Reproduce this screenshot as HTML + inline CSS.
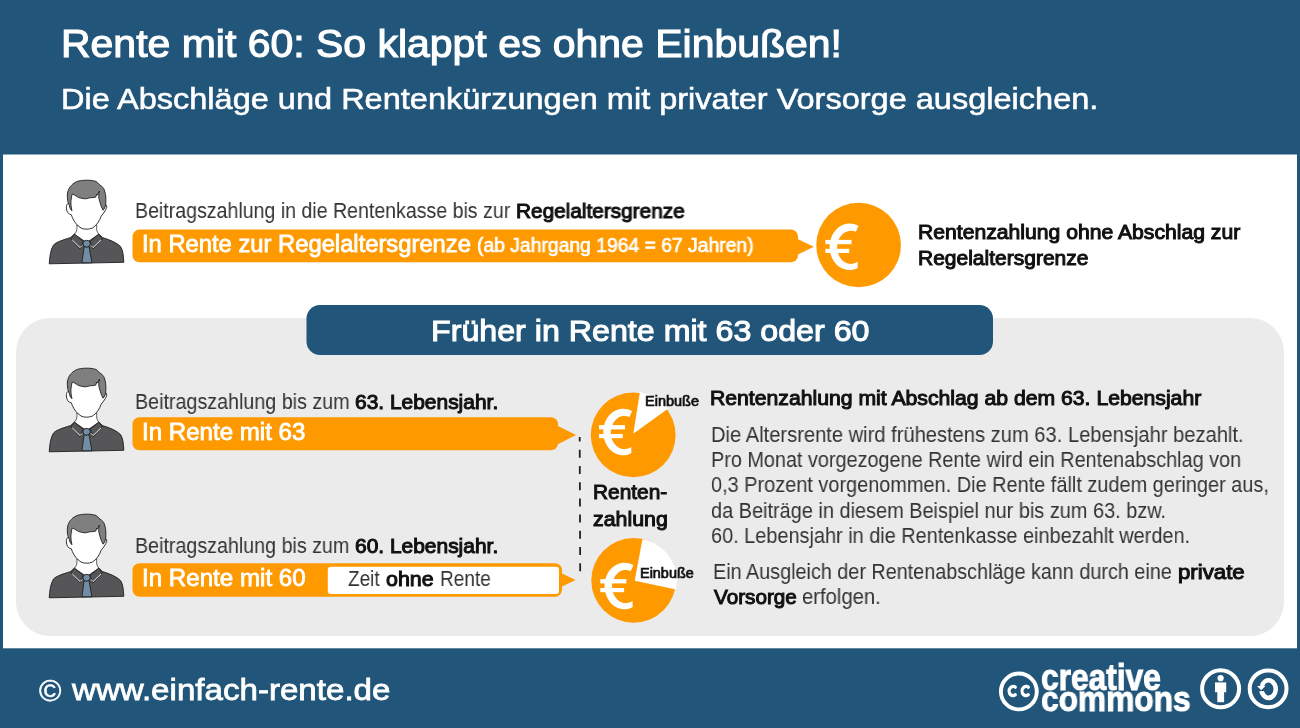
<!DOCTYPE html>
<html><head><meta charset="utf-8"><style>
html,body{margin:0;padding:0;}
body{width:1300px;height:728px;overflow:hidden;position:relative;background:#21557a;font-family:"Liberation Sans",sans-serif;}
.t{position:absolute;white-space:nowrap;transform-origin:0 0;will-change:transform;}
</style></head><body>
<svg width="1300" height="728" viewBox="0 0 1300 728" style="position:absolute;left:0;top:0">
<rect x="3" y="154.5" width="1294" height="493.8" fill="#fff"/>
<rect x="16" y="318" width="1268" height="318" rx="34" fill="#ebebeb"/>
<rect x="306.5" y="305" width="686.5" height="50" rx="13.5" fill="#21557a"/>
<!-- bar1 -->
<rect x="132.5" y="229.6" width="665.5" height="32.6" rx="7" fill="#ff9900"/>
<path d="M797,238.8 L813.8,246.8 L797,255 Z" fill="#ff9900"/>
<circle cx="858.6" cy="245" r="42.3" fill="#ff9900"/>
<g transform="translate(825.3,223.2)"><g fill="#fff">
<path d="M33.2,2.9 A19.8,23.3 0 1 0 32.4,44.8 L32.4,38.6 A13.8,16.6 0 1 1 30.5,8.6 Z"/>
<rect x="0.1" y="16.7" width="26.1" height="4.3"/>
<rect x="0.1" y="25.6" width="23.8" height="4.2"/>
</g></g>
<!-- bar2 -->
<rect x="132.5" y="417.3" width="425.5" height="33" rx="7" fill="#ff9900"/>
<path d="M557,425.5 L576,435.1 L557,444.7 Z" fill="#ff9900"/>
<!-- bar3 -->
<rect x="132.5" y="563.2" width="429.5" height="33.6" rx="7" fill="#ff9900"/>
<rect x="327.8" y="566.7" width="231.2" height="27.3" rx="3" fill="#fff"/>
<path d="M561,573 L575.6,579.9 L561,587 Z" fill="#ff9900"/>
<!-- dashed -->
<line x1="579.7" y1="437" x2="580.2" y2="572.2" stroke="#222" stroke-width="1.8" stroke-dasharray="8 8.2" stroke-dashoffset="3.4"/>
<!-- pies -->
<circle cx="633.2" cy="434.9" r="42.4" fill="#ff9900"/>
<path d="M633.3,433.8 L639.93,391.92 A42.4,42.4 0 0 1 667.60,408.88 Z" fill="#fff"/>
<g transform="translate(598.9,408.4)"><g fill="#fff">
<path d="M33.2,2.9 A19.8,23.3 0 1 0 32.4,44.8 L32.4,38.6 A13.8,16.6 0 1 1 30.5,8.6 Z"/>
<rect x="0.1" y="16.7" width="26.1" height="4.3"/>
<rect x="0.1" y="25.6" width="23.8" height="4.2"/>
</g></g>
<circle cx="633.6" cy="580.4" r="42.3" fill="#ff9900"/>
<path d="M634.7,580.8 L642.41,539.21 A42.3,42.3 0 0 1 676.08,589.59 Z" fill="#fff"/>
<g transform="translate(600.2,562.4)"><g fill="#fff">
<path d="M33.2,2.9 A19.8,23.3 0 1 0 32.4,44.8 L32.4,38.6 A13.8,16.6 0 1 1 30.5,8.6 Z"/>
<rect x="0.1" y="16.7" width="26.1" height="4.3"/>
<rect x="0.1" y="25.6" width="23.8" height="4.2"/>
</g></g>
<g transform="translate(0,0)"><g stroke="#1e1e1e" stroke-width="0.9" stroke-linejoin="round">
<path d="M49.2,263.8 C49.8,256 50.5,250 53.5,245 C56,242.3 62,240.2 70.6,237.6 L74.4,234.2 L98.8,234.2 L102.6,237.6 C110,240 116.5,242.5 120.5,246.5 C123,250 123.5,256 123.8,262.3 Z" fill="#565658"/>
<path d="M76.8,225 C77.3,229 77,231.5 74.4,234.2 L86.6,242.5 L98.8,234.2 C96.5,231.5 96.3,229 96.8,225 Z" fill="#fff" stroke-width="0.7"/>
<path d="M71,238.6 L74.4,234.2 L83.2,241.4 L80.1,249 Z M102.2,238.6 L98.8,234.2 L90,241.4 L93.1,249 Z" fill="#565658" stroke-width="0.8"/>
<path d="M72.2,239.9 L80.1,247.6 L82.2,245.4 M101,239.9 L93.1,247.6 L91,245.4" fill="none" stroke="#fff" stroke-width="0.9"/>
<path d="M84.1,246.8 L89.1,246.8 L91.9,262.8 L81.9,262.8 Z" fill="#728ea6"/>
<ellipse cx="86.6" cy="243.7" rx="3.7" ry="3.4" fill="#728ea6"/>
<path d="M70.5,203.5 C67.5,203 66.2,204 66.4,208 C66.6,211.5 68,214.3 71.3,214.8 L72.4,217.6 C74,221.5 77,225.5 81,228 C84,229.6 89,229.6 92.5,228 C96.5,225.5 99.5,221 101.2,216.2 C103.3,213.5 105.7,210.7 106.7,207.3 C107,204.5 105.3,204.2 103.8,204.5 L101,190 L72,190 Z" fill="#fff" stroke="none"/><path d="M70.5,203.5 C67.5,203 66.2,204 66.4,208 C66.6,211.5 68,214.3 71.3,214.8 L72.4,217.6 C74,221.5 77,225.5 81,228 C84,229.6 89,229.6 92.5,228 C96.5,225.5 99.5,221 101.2,216.2 C103.3,213.5 105.7,210.7 106.7,207.3 C107,204.5 105.3,204.2 103.8,204.5" fill="none"/>
<path d="M71.9,210.7 C70.5,209.5 69.6,207.5 69.4,205.7 C68.5,203.5 67.7,201.5 67.6,200.3 C67.2,197.5 67.2,195 67.5,192.9 C68.3,189.5 69.5,187.2 71.4,185.4 C73.3,183.3 75.5,182 77.9,181.2 C81.5,180.3 85,180.1 88.8,180.2 C91.5,180.3 94,180.7 96.2,181.5 C97.3,182.2 98,183.2 98.7,184 C99.6,185 100.6,185.5 101.6,186.2 C103.2,187.5 104.2,189 104.6,190.9 C105.4,193 105.8,195.5 105.8,197.8 C106,200.5 105.9,203 105.6,205.2 C105.2,207.2 104.3,209 103.1,210.2 C101.8,208 100.8,205.5 100.1,202.8 C99.4,200.8 98.9,198.8 98.7,196.8 C98.6,195 98.9,193 99.4,191.1 L98.2,193.8 L96.9,195.2 L96.6,194.2 L95.7,197.1 C93.9,197.6 91.8,197.7 89.7,197.8 C88,198.4 86.5,198.8 84.8,198.8 C82.8,198.6 80.8,198.2 78.9,197.6 C77.1,196.8 75.4,195.5 73.9,194.6 C73.2,194.3 72.6,194.3 72.2,194.3 C71.7,195.4 71.5,196.6 71.4,197.8 C71.1,199.5 70.9,201.2 70.9,202.8 C70.9,204.5 71.1,206.1 71.4,207.7 C71.6,208.7 71.8,209.7 71.9,210.7 Z" fill="#7f7f7f"/>
</g>
</g><g transform="translate(0,188)"><g stroke="#1e1e1e" stroke-width="0.9" stroke-linejoin="round">
<path d="M49.2,263.8 C49.8,256 50.5,250 53.5,245 C56,242.3 62,240.2 70.6,237.6 L74.4,234.2 L98.8,234.2 L102.6,237.6 C110,240 116.5,242.5 120.5,246.5 C123,250 123.5,256 123.8,262.3 Z" fill="#565658"/>
<path d="M76.8,225 C77.3,229 77,231.5 74.4,234.2 L86.6,242.5 L98.8,234.2 C96.5,231.5 96.3,229 96.8,225 Z" fill="#fff" stroke-width="0.7"/>
<path d="M71,238.6 L74.4,234.2 L83.2,241.4 L80.1,249 Z M102.2,238.6 L98.8,234.2 L90,241.4 L93.1,249 Z" fill="#565658" stroke-width="0.8"/>
<path d="M72.2,239.9 L80.1,247.6 L82.2,245.4 M101,239.9 L93.1,247.6 L91,245.4" fill="none" stroke="#fff" stroke-width="0.9"/>
<path d="M84.1,246.8 L89.1,246.8 L91.9,262.8 L81.9,262.8 Z" fill="#728ea6"/>
<ellipse cx="86.6" cy="243.7" rx="3.7" ry="3.4" fill="#728ea6"/>
<path d="M70.5,203.5 C67.5,203 66.2,204 66.4,208 C66.6,211.5 68,214.3 71.3,214.8 L72.4,217.6 C74,221.5 77,225.5 81,228 C84,229.6 89,229.6 92.5,228 C96.5,225.5 99.5,221 101.2,216.2 C103.3,213.5 105.7,210.7 106.7,207.3 C107,204.5 105.3,204.2 103.8,204.5 L101,190 L72,190 Z" fill="#fff" stroke="none"/><path d="M70.5,203.5 C67.5,203 66.2,204 66.4,208 C66.6,211.5 68,214.3 71.3,214.8 L72.4,217.6 C74,221.5 77,225.5 81,228 C84,229.6 89,229.6 92.5,228 C96.5,225.5 99.5,221 101.2,216.2 C103.3,213.5 105.7,210.7 106.7,207.3 C107,204.5 105.3,204.2 103.8,204.5" fill="none"/>
<path d="M71.9,210.7 C70.5,209.5 69.6,207.5 69.4,205.7 C68.5,203.5 67.7,201.5 67.6,200.3 C67.2,197.5 67.2,195 67.5,192.9 C68.3,189.5 69.5,187.2 71.4,185.4 C73.3,183.3 75.5,182 77.9,181.2 C81.5,180.3 85,180.1 88.8,180.2 C91.5,180.3 94,180.7 96.2,181.5 C97.3,182.2 98,183.2 98.7,184 C99.6,185 100.6,185.5 101.6,186.2 C103.2,187.5 104.2,189 104.6,190.9 C105.4,193 105.8,195.5 105.8,197.8 C106,200.5 105.9,203 105.6,205.2 C105.2,207.2 104.3,209 103.1,210.2 C101.8,208 100.8,205.5 100.1,202.8 C99.4,200.8 98.9,198.8 98.7,196.8 C98.6,195 98.9,193 99.4,191.1 L98.2,193.8 L96.9,195.2 L96.6,194.2 L95.7,197.1 C93.9,197.6 91.8,197.7 89.7,197.8 C88,198.4 86.5,198.8 84.8,198.8 C82.8,198.6 80.8,198.2 78.9,197.6 C77.1,196.8 75.4,195.5 73.9,194.6 C73.2,194.3 72.6,194.3 72.2,194.3 C71.7,195.4 71.5,196.6 71.4,197.8 C71.1,199.5 70.9,201.2 70.9,202.8 C70.9,204.5 71.1,206.1 71.4,207.7 C71.6,208.7 71.8,209.7 71.9,210.7 Z" fill="#7f7f7f"/>
</g>
</g><g transform="translate(0,334)"><g stroke="#1e1e1e" stroke-width="0.9" stroke-linejoin="round">
<path d="M49.2,263.8 C49.8,256 50.5,250 53.5,245 C56,242.3 62,240.2 70.6,237.6 L74.4,234.2 L98.8,234.2 L102.6,237.6 C110,240 116.5,242.5 120.5,246.5 C123,250 123.5,256 123.8,262.3 Z" fill="#565658"/>
<path d="M76.8,225 C77.3,229 77,231.5 74.4,234.2 L86.6,242.5 L98.8,234.2 C96.5,231.5 96.3,229 96.8,225 Z" fill="#fff" stroke-width="0.7"/>
<path d="M71,238.6 L74.4,234.2 L83.2,241.4 L80.1,249 Z M102.2,238.6 L98.8,234.2 L90,241.4 L93.1,249 Z" fill="#565658" stroke-width="0.8"/>
<path d="M72.2,239.9 L80.1,247.6 L82.2,245.4 M101,239.9 L93.1,247.6 L91,245.4" fill="none" stroke="#fff" stroke-width="0.9"/>
<path d="M84.1,246.8 L89.1,246.8 L91.9,262.8 L81.9,262.8 Z" fill="#728ea6"/>
<ellipse cx="86.6" cy="243.7" rx="3.7" ry="3.4" fill="#728ea6"/>
<path d="M70.5,203.5 C67.5,203 66.2,204 66.4,208 C66.6,211.5 68,214.3 71.3,214.8 L72.4,217.6 C74,221.5 77,225.5 81,228 C84,229.6 89,229.6 92.5,228 C96.5,225.5 99.5,221 101.2,216.2 C103.3,213.5 105.7,210.7 106.7,207.3 C107,204.5 105.3,204.2 103.8,204.5 L101,190 L72,190 Z" fill="#fff" stroke="none"/><path d="M70.5,203.5 C67.5,203 66.2,204 66.4,208 C66.6,211.5 68,214.3 71.3,214.8 L72.4,217.6 C74,221.5 77,225.5 81,228 C84,229.6 89,229.6 92.5,228 C96.5,225.5 99.5,221 101.2,216.2 C103.3,213.5 105.7,210.7 106.7,207.3 C107,204.5 105.3,204.2 103.8,204.5" fill="none"/>
<path d="M71.9,210.7 C70.5,209.5 69.6,207.5 69.4,205.7 C68.5,203.5 67.7,201.5 67.6,200.3 C67.2,197.5 67.2,195 67.5,192.9 C68.3,189.5 69.5,187.2 71.4,185.4 C73.3,183.3 75.5,182 77.9,181.2 C81.5,180.3 85,180.1 88.8,180.2 C91.5,180.3 94,180.7 96.2,181.5 C97.3,182.2 98,183.2 98.7,184 C99.6,185 100.6,185.5 101.6,186.2 C103.2,187.5 104.2,189 104.6,190.9 C105.4,193 105.8,195.5 105.8,197.8 C106,200.5 105.9,203 105.6,205.2 C105.2,207.2 104.3,209 103.1,210.2 C101.8,208 100.8,205.5 100.1,202.8 C99.4,200.8 98.9,198.8 98.7,196.8 C98.6,195 98.9,193 99.4,191.1 L98.2,193.8 L96.9,195.2 L96.6,194.2 L95.7,197.1 C93.9,197.6 91.8,197.7 89.7,197.8 C88,198.4 86.5,198.8 84.8,198.8 C82.8,198.6 80.8,198.2 78.9,197.6 C77.1,196.8 75.4,195.5 73.9,194.6 C73.2,194.3 72.6,194.3 72.2,194.3 C71.7,195.4 71.5,196.6 71.4,197.8 C71.1,199.5 70.9,201.2 70.9,202.8 C70.9,204.5 71.1,206.1 71.4,207.7 C71.6,208.7 71.8,209.7 71.9,210.7 Z" fill="#7f7f7f"/>
</g>
</g>
<!-- CC logo -->
<circle cx="1018.85" cy="691.45" r="17.95" fill="none" stroke="#fff" stroke-width="3.9"/>
<path d="M1016.43,688.41 A4.0,4.6 0 1 0 1016.43,693.69" fill="none" stroke="#fff" stroke-width="3.3"/><path d="M1029.33,688.41 A4.0,4.6 0 1 0 1029.33,693.69" fill="none" stroke="#fff" stroke-width="3.3"/><rect x="1016.8" y="683.5" width="3.4" height="15" fill="#21557a"/><rect x="1029.9" y="683.5" width="2.6" height="15" fill="#21557a"/>
<circle cx="1220.6" cy="688.8" r="18.5" fill="none" stroke="#fff" stroke-width="4"/>
<circle cx="1220.6" cy="678.2" r="3.1" fill="#fff"/>
<rect x="1215" y="682.4" width="11.2" height="9.8" fill="#fff"/>
<rect x="1217.3" y="692" width="6.8" height="10.2" fill="#fff"/>
<circle cx="1268.1" cy="688.8" r="18.4" fill="none" stroke="#fff" stroke-width="4"/>
<path d="M1261.45,689.10 A7.15,8.8 0 0 0 1271.05,697.37" fill="none" stroke="#fff" stroke-width="4.6"/><path d="M1268.60,697.90 A7.15,8.8 0 1 0 1261.88,686.09" fill="none" stroke="#fff" stroke-width="4.6"/>
<rect x="1258.3" y="688.6" width="6.3" height="2.5" fill="#21557a"/><path d="M1256.9,686.0 L1265.4,686.0 L1261.2,690.3 Z" fill="#fff"/>
</svg>
<div class="t" style="left:60.84px;top:25.90px;font-size:37.94px;line-height:37.94px;font-weight:400;color:#ffffff;transform:scaleX(1.0801);-webkit-text-stroke:1.1px #ffffff">Rente mit 60: So klappt es ohne Einbußen!</div><div class="t" style="left:61.15px;top:85.40px;font-size:28.85px;line-height:28.85px;font-weight:400;color:#ffffff;transform:scaleX(1.1271);-webkit-text-stroke:0.55px #ffffff">Die Abschläge und Rentenkürzungen mit privater Vorsorge ausgleichen.</div><div class="t" style="left:134.93px;top:199.60px;font-size:22.38px;line-height:22.38px;font-weight:400;color:#333333;transform:scaleX(0.8745);-webkit-text-stroke:0px #333333">Beitragszahlung in die Rentenkasse bis zur</div><div class="t" style="left:516.40px;top:200.60px;font-size:20.87px;line-height:20.87px;font-weight:400;color:#111111;transform:scaleX(0.9964);-webkit-text-stroke:1.04px #111111">Regelaltersgrenze</div><div class="t" style="left:141.68px;top:233.00px;font-size:23.24px;line-height:23.24px;font-weight:400;color:#ffffff;transform:scaleX(1.0228);-webkit-text-stroke:0.81px #ffffff">In Rente zur Regelaltersgrenze</div><div class="t" style="left:477.31px;top:236.00px;font-size:19.5px;line-height:19.5px;font-weight:400;color:#ffffff;transform:scaleX(0.9906);-webkit-text-stroke:0.68px #ffffff">(ab Jahrgang 1964 = 67 Jahren)</div><div class="t" style="left:918.14px;top:222.50px;font-size:19.92px;line-height:19.92px;font-weight:400;color:#111111;transform:scaleX(1.0627);-webkit-text-stroke:1.0px #111111">Rentenzahlung ohne Abschlag zur</div><div class="t" style="left:918.15px;top:248.90px;font-size:19.92px;line-height:19.92px;font-weight:400;color:#111111;transform:scaleX(1.0550);-webkit-text-stroke:1.0px #111111">Regelaltersgrenze</div><div class="t" style="left:430.83px;top:315.80px;font-size:30.01px;line-height:30.01px;font-weight:400;color:#ffffff;transform:scaleX(1.0732);-webkit-text-stroke:1.05px #ffffff">Früher in Rente mit 63 oder 60</div><div class="t" style="left:134.61px;top:390.80px;font-size:22.24px;line-height:22.24px;font-weight:400;color:#333333;transform:scaleX(0.8858);-webkit-text-stroke:0px #333333">Beitragszahlung bis zum</div><div class="t" style="left:354.90px;top:391.80px;font-size:20.73px;line-height:20.73px;font-weight:400;color:#111111;transform:scaleX(1.0106);-webkit-text-stroke:1.04px #111111">63. Lebensjahr.</div><div class="t" style="left:141.77px;top:420.90px;font-size:23.37px;line-height:23.37px;font-weight:400;color:#ffffff;transform:scaleX(1.0312);-webkit-text-stroke:0.82px #ffffff">In Rente mit 63</div><div class="t" style="left:134.92px;top:534.80px;font-size:22.24px;line-height:22.24px;font-weight:400;color:#333333;transform:scaleX(0.8846);-webkit-text-stroke:0px #333333">Beitragszahlung bis zum</div><div class="t" style="left:354.90px;top:535.80px;font-size:20.73px;line-height:20.73px;font-weight:400;color:#111111;transform:scaleX(1.0106);-webkit-text-stroke:1.04px #111111">60. Lebensjahr.</div><div class="t" style="left:141.66px;top:567.00px;font-size:23.24px;line-height:23.24px;font-weight:400;color:#ffffff;transform:scaleX(1.0385);-webkit-text-stroke:0.81px #ffffff">In Rente mit 60</div><div class="t" style="left:347.60px;top:567.70px;font-size:21.95px;line-height:21.95px;font-weight:400;color:#333333;transform:scaleX(0.8649);-webkit-text-stroke:0px #333333">Zeit</div><div class="t" style="left:386.20px;top:568.70px;font-size:20.46px;line-height:20.46px;font-weight:400;color:#111111;transform:scaleX(1.0467);-webkit-text-stroke:1.02px #111111">ohne</div><div class="t" style="left:440.03px;top:567.70px;font-size:21.95px;line-height:21.95px;font-weight:400;color:#333333;transform:scaleX(0.8684);-webkit-text-stroke:0px #333333">Rente</div><div class="t" style="left:644.80px;top:394.70px;font-size:13.82px;line-height:13.82px;font-weight:400;color:#111111;transform:scaleX(1.0490);-webkit-text-stroke:0.69px #111111">Einbuße</div><div class="t" style="left:592.74px;top:483.30px;font-size:19.78px;line-height:19.78px;font-weight:400;color:#111111;transform:scaleX(1.0565);-webkit-text-stroke:0.99px #111111">Renten-</div><div class="t" style="left:593.20px;top:509.60px;font-size:19.78px;line-height:19.78px;font-weight:400;color:#111111;transform:scaleX(1.0797);-webkit-text-stroke:0.99px #111111">zahlung</div><div class="t" style="left:639.60px;top:567.00px;font-size:13.96px;line-height:13.96px;font-weight:400;color:#111111;transform:scaleX(1.0346);-webkit-text-stroke:0.7px #111111">Einbuße</div><div class="t" style="left:710.41px;top:389.20px;font-size:19.51px;line-height:19.51px;font-weight:400;color:#111111;transform:scaleX(1.0867);-webkit-text-stroke:0.98px #111111">Rentenzahlung mit Abschlag ab dem 63. Lebensjahr</div><div class="t" style="left:711.08px;top:423.80px;font-size:21.95px;line-height:21.95px;font-weight:400;color:#333333;transform:scaleX(0.9176);-webkit-text-stroke:0px #333333">Die Altersrente wird frühestens zum 63. Lebensjahr bezahlt.</div><div class="t" style="left:711.10px;top:449.00px;font-size:21.95px;line-height:21.95px;font-weight:400;color:#333333;transform:scaleX(0.9036);-webkit-text-stroke:0px #333333">Pro Monat vorgezogene Rente wird ein Rentenabschlag von</div><div class="t" style="left:711.09px;top:474.40px;font-size:21.95px;line-height:21.95px;font-weight:400;color:#333333;transform:scaleX(0.9078);-webkit-text-stroke:0px #333333">0,3 Prozent vorgenommen. Die Rente fällt zudem geringer aus,</div><div class="t" style="left:711.09px;top:499.60px;font-size:21.95px;line-height:21.95px;font-weight:400;color:#333333;transform:scaleX(0.9080);-webkit-text-stroke:0px #333333">da Beiträge in diesem Beispiel nur bis zum 63. bzw.</div><div class="t" style="left:711.09px;top:524.80px;font-size:21.95px;line-height:21.95px;font-weight:400;color:#333333;transform:scaleX(0.9072);-webkit-text-stroke:0px #333333">60. Lebensjahr in die Rentenkasse einbezahlt werden.</div><div class="t" style="left:712.59px;top:560.80px;font-size:21.66px;line-height:21.66px;font-weight:400;color:#333333;transform:scaleX(0.9138);-webkit-text-stroke:0px #333333">Ein Ausgleich der Rentenabschläge kann durch eine</div><div class="t" style="left:1177.60px;top:561.80px;font-size:20.19px;line-height:20.19px;font-weight:400;color:#111111;transform:scaleX(1.1000);-webkit-text-stroke:1.01px #111111">private</div><div class="t" style="left:714.13px;top:586.90px;font-size:20.19px;line-height:20.19px;font-weight:400;color:#111111;transform:scaleX(1.0256);-webkit-text-stroke:1.01px #111111">Vorsorge</div><div class="t" style="left:802.47px;top:585.90px;font-size:21.66px;line-height:21.66px;font-weight:400;color:#333333;transform:scaleX(0.9341);-webkit-text-stroke:0px #333333">erfolgen.</div><div class="t" style="left:38.50px;top:675.50px;font-size:30.2px;line-height:30.2px;font-weight:400;color:#ffffff;transform:scaleX(1.0091);-webkit-text-stroke:0.5px #ffffff">©</div><div class="t" style="left:71.52px;top:674.70px;font-size:29.5px;line-height:29.5px;font-weight:400;color:#ffffff;transform:scaleX(1.1225);-webkit-text-stroke:0.8px #ffffff">www.einfach-rente.de</div><div class="t" style="left:1040.62px;top:660.40px;font-size:36.0px;line-height:36.0px;font-weight:700;color:#ffffff;transform:scaleX(0.8807);-webkit-text-stroke:1.0px #ffffff">creative</div><div class="t" style="left:1040.59px;top:681.20px;font-size:35.0px;line-height:35.0px;font-weight:700;color:#ffffff;transform:scaleX(0.9055);-webkit-text-stroke:1.0px #ffffff">commons</div>
</body></html>
